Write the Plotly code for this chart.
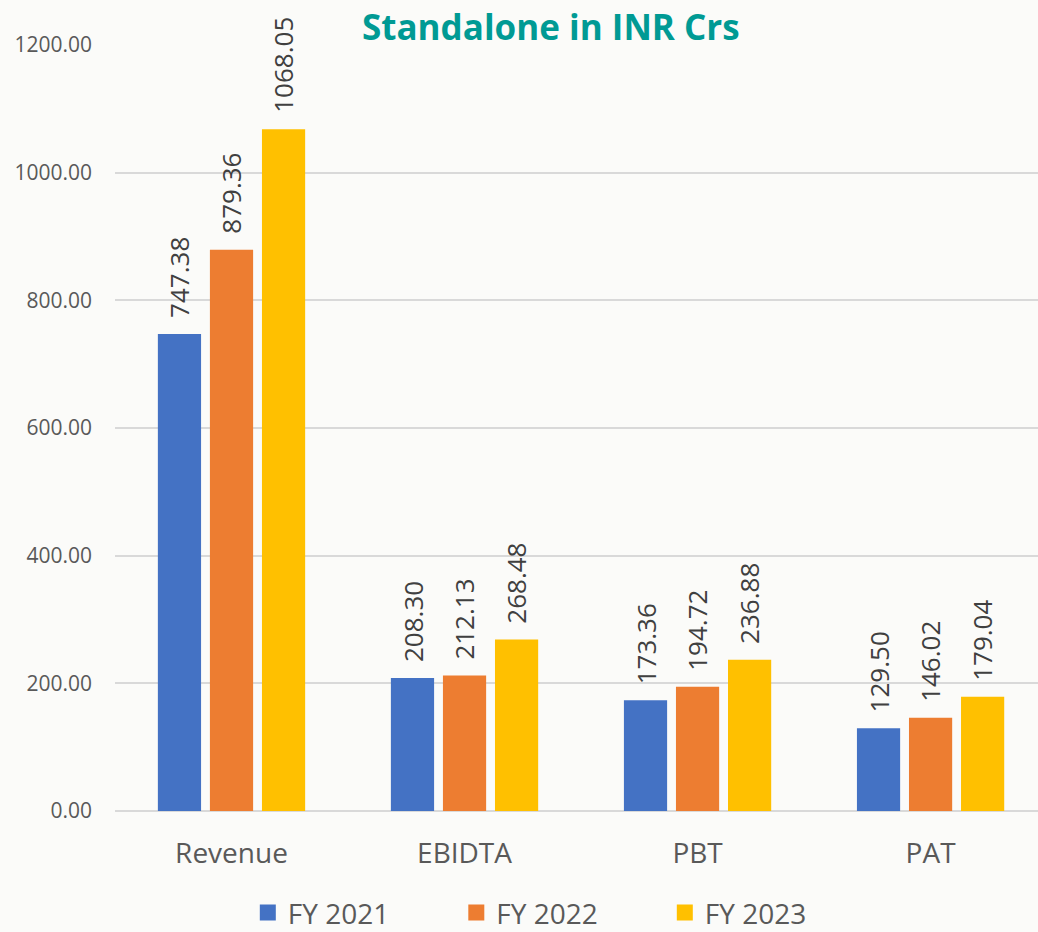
import plotly.graph_objects as go

categories = ["Revenue", "EBIDTA", "PBT", "PAT"]
series_names = ["FY 2021", "FY 2022", "FY 2023"]
fy2021 = [747.38, 208.30, 173.36, 129.50]
fy2022 = [879.36, 212.13, 194.72, 146.02]
fy2023 = [1068.05, 268.48, 236.88, 179.04]
y_ticks = [0, 200, 400, 600, 800, 1000, 1200]
title_text = "Standalone in INR Crs"

colors = ["#4472C4", "#ED7D31", "#FFC000"]
FONT = "Open Sans"
BG = "#FBFBF9"
BARGAP = 0.33
BARGROUPGAP = 0.17

fig = go.Figure()
all_series = [fy2021, fy2022, fy2023]
for name, vals, col in zip(series_names, all_series, colors):
    fig.add_trace(go.Bar(
        x=categories, y=vals, name=name, showlegend=False,
        marker=dict(color=col, line=dict(width=0)),
    ))
# legend entries with larger square swatches
for name, col in zip(series_names, colors):
    fig.add_trace(go.Scatter(
        x=[None], y=[None], mode="markers", name=name,
        marker=dict(symbol="square", size=16, color=col),
    ))

slot = (1 - BARGAP) / 3
annotations = []
for k, vals in enumerate(all_series):
    off = (k - 1) * slot
    for j, v in enumerate(vals):
        annotations.append(dict(
            x=j + off, y=v, xref="x", yref="y",
            text=f"{v:.2f}", showarrow=False, textangle=-90,
            xanchor="center", yanchor="bottom", yshift=14,
            font=dict(family=FONT, size=26, color="#404040"),
        ))

annotations.append(dict(
    x=0.472, y=1.0235, xref="paper", yref="paper",
    text=f"<b>{title_text}</b>", showarrow=False,
    xanchor="center", yanchor="middle",
    font=dict(family=FONT, size=35, color="#009A94"),
))

fig.update_layout(
    width=1038, height=932,
    margin=dict(l=115, r=0, t=45, b=121, autoexpand=False),
    paper_bgcolor=BG, plot_bgcolor=BG,
    barmode="group", bargap=BARGAP, bargroupgap=BARGROUPGAP,
    showlegend=True,
    legend=dict(
        orientation="h", x=0.483, xanchor="center",
        yref="container", y=0.0205, yanchor="middle",
        font=dict(family=FONT, size=28, color="#595959"),
        entrywidth=163.5, entrywidthmode="pixels",
        bgcolor="rgba(0,0,0,0)",
    ),
    annotations=annotations,
    font=dict(family=FONT),
)
fig.update_xaxes(
    range=[-0.5, 3.461], showgrid=False, showline=False, ticks="",
    tickfont=dict(family=FONT, size=28, color="#595959"),
    ticklabelstandoff=23,
)
fig.update_yaxes(
    range=[0, 1200], tickvals=y_ticks, ticktext=[f"{t:.2f}" for t in y_ticks],
    showgrid=True, gridcolor="#D9D9D9", gridwidth=1.5,
    zeroline=True, zerolinecolor="#D9D9D9", zerolinewidth=2,
    showline=False, ticks="",
    tickfont=dict(family=FONT, size=21, color="#595959"),
    ticklabelstandoff=22,
)

fig.write_html(
    "out.html",
    config={"displayModeBar": False},
    post_script=f"document.body.style.margin='0';document.body.style.background='{BG}';document.body.style.overflow='hidden';",
)
